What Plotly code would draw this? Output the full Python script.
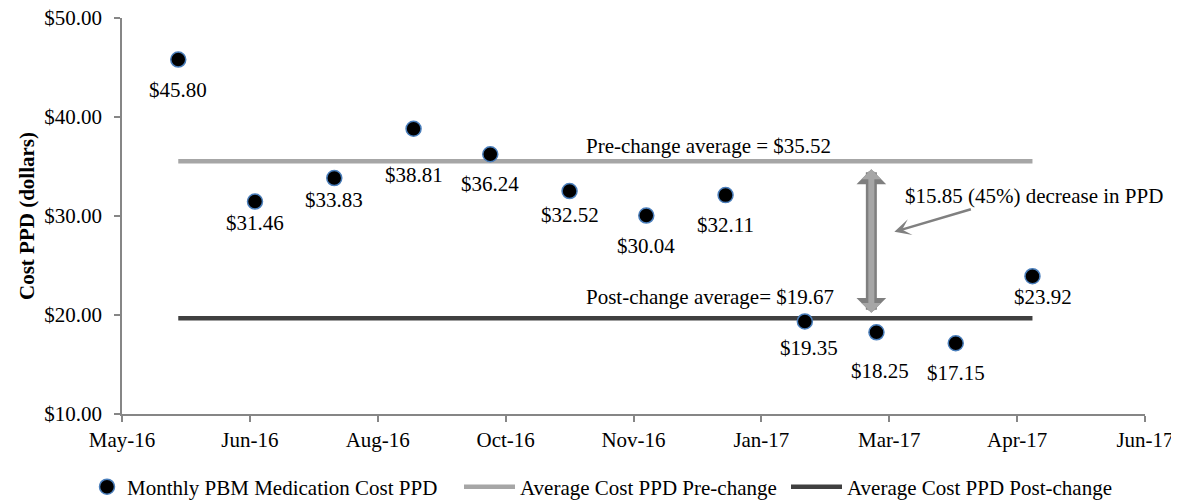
import plotly.graph_objects as go
from datetime import date, timedelta

# ---- data ----
months = ["2016-06-01", "2016-07-01", "2016-08-01", "2016-09-01", "2016-10-01", "2016-11-01",
          "2016-12-01", "2017-01-01", "2017-02-01", "2017-03-01", "2017-04-01", "2017-05-01"]
monthly_cost = [45.80, 31.46, 33.83, 38.81, 36.24, 32.52, 30.04, 32.11, 19.35, 18.25, 17.15, 23.92]
pre_avg = 35.52
post_avg = 19.67
tick_labels = ["May-16", "Jun-16", "Aug-16", "Oct-16", "Nov-16", "Jan-17", "Mar-17", "Apr-17", "Jun-17"]
y_ticks = [10, 20, 30, 40, 50]

# Excel-style date axis: min serial 42500 (2016-05-10), major unit 50 days
axis_start = date(2016, 5, 10)
tick_vals = [(axis_start + timedelta(days=50 * k)).isoformat() for k in range(len(tick_labels))]
axis_end = tick_vals[-1]

# label placement (pixel offsets of the data labels below their points)
default_label_shift = (0, -30)
label_shift_override = {
    "2016-07-01": (0, -21),
    "2016-08-01": (0, -22),
    "2016-09-01": (0, -46),
    "2016-11-01": (0, -24),
    "2017-03-01": (4, -39),
    "2017-02-01": (4, -27),
    "2017-05-01": (11, -21),
}

FONT = "Liberation Serif, Times New Roman, serif"
FS = 21
W, H = 1171, 494  # page body adds an 8px margin

fig = go.Figure()

fig.add_trace(go.Scatter(
    x=months, y=[pre_avg] * len(months), mode="lines",
    name="Average Cost PPD Pre-change", legend="legend2",
    line=dict(color="#a6a6a6", width=4.5),
))
fig.add_trace(go.Scatter(
    x=months, y=[post_avg] * len(months), mode="lines",
    name="Average Cost PPD Post-change", legend="legend3",
    line=dict(color="#404040", width=4.5),
))
fig.add_trace(go.Scatter(
    x=months, y=monthly_cost, mode="markers",
    name="Monthly PBM Medication Cost PPD", legend="legend",
    marker=dict(color="black", size=15, line=dict(color="#4a7ebb", width=1.5)),
))

annotations = []
for m, v in zip(months, monthly_cost):
    dx, dy = label_shift_override.get(m, default_label_shift)
    annotations.append(dict(x=m, y=v, xref="x", yref="y", text=f"${v:.2f}", showarrow=False,
                            xshift=dx, yshift=dy, font=dict(family=FONT, size=FS, color="black")))

annotations.append(dict(x=0.573, y=pre_avg, xref="paper", yref="y", text=f"Pre-change average = ${pre_avg:.2f}",
                        showarrow=False, yanchor="bottom", yshift=1,
                        font=dict(family=FONT, size=FS, color="black")))
annotations.append(dict(x=0.575, y=post_avg, xref="paper", yref="y", text=f"Post-change average= ${post_avg:.2f}",
                        showarrow=False, yanchor="bottom", yshift=7,
                        font=dict(family=FONT, size=FS, color="black")))
annotations.append(dict(x=0.7634, y=32.05, xref="paper", yref="y",
                        text=f"${pre_avg - post_avg:.2f} (45%) decrease in PPD",
                        showarrow=False, xanchor="left",
                        font=dict(family=FONT, size=FS, color="black")))

# double-headed arrow between the averages
arrow_x = "2017-02-27"
for col, w, s in [("#7f7f7f", 11, 0.45), ("#a6a6a6", 6, 0.55)]:
    annotations.append(dict(x=arrow_x, y=post_avg + 0.55, ax=arrow_x, ay=pre_avg - 0.65,
                            xref="x", yref="y", axref="x", ayref="y", text="",
                            showarrow=True, arrowhead=1, startarrowhead=1, arrowside="end+start",
                            arrowwidth=w, arrowsize=s, startarrowsize=s, arrowcolor=col,
                            standoff=0, startstandoff=0))
# pointer arrow from the text
annotations.append(dict(x="2017-03-08", y=28.4, xref="x", yref="y", ax=78, ay=-23, text="",
                        showarrow=True, arrowhead=3, arrowwidth=2.5, arrowsize=1.1,
                        arrowcolor="#808080", standoff=0))

leg_y = 1 - 479 / H
leg_common = dict(orientation="h", xref="container", yref="container", y=leg_y, yanchor="middle",
                  xanchor="left", font=dict(family=FONT, size=FS, color="black"),
                  bgcolor="rgba(0,0,0,0)")

fig.update_layout(
    width=W, height=H,
    margin=dict(l=114, r=34, t=10, b=88),
    plot_bgcolor="white", paper_bgcolor="white",
    font=dict(family=FONT, size=FS, color="black"),
    showlegend=True,
    legend=dict(x=79 / W, **leg_common),
    legend2=dict(x=451 / W, itemwidth=51, **leg_common),
    legend3=dict(x=778 / W, itemwidth=51, **leg_common),
    annotations=annotations,
    xaxis=dict(
        type="date", range=[axis_start.isoformat(), axis_end], automargin=False,
        tickvals=tick_vals, ticktext=tick_labels, ticklabeloverflow="allow",
        showgrid=False, zeroline=False, showline=True, linecolor="#868686", linewidth=1.5,
        ticks="outside", ticklen=6, tickcolor="#868686", tickwidth=1.5,
        tickfont=dict(family=FONT, size=FS, color="black"),
    ),
    yaxis=dict(
        range=[10, 50], tickvals=y_ticks, ticktext=[f"${t:.2f}" for t in y_ticks], automargin=False,
        ticklabeloverflow="allow",
        showgrid=False, zeroline=False, showline=True, linecolor="#868686", linewidth=1.5,
        ticks="outside", ticklen=6, tickcolor="#868686", tickwidth=1.5,
        ticklabelstandoff=8,
        tickfont=dict(family=FONT, size=FS, color="black"),
        title=dict(text="<b>Cost PPD (dollars)</b>", font=dict(family=FONT, size=21, color="black"),
                   standoff=4),
    ),
)

fig.write_html("out.html")
